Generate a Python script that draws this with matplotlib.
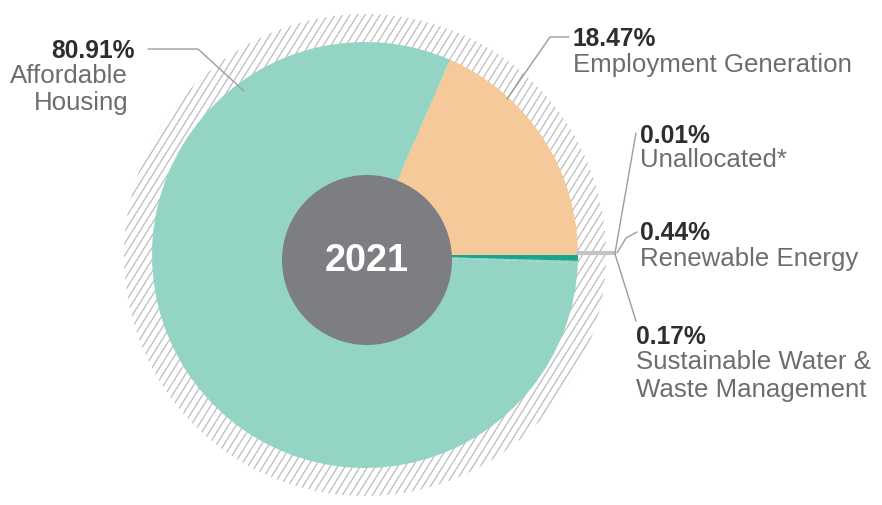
import matplotlib
matplotlib.use("Agg")
import numpy as np
import matplotlib.pyplot as plt
from matplotlib.patches import Circle

labels = ["Employment Generation", "Affordable Housing", "Unallocated*",
          "Sustainable Water & Waste Management", "Renewable Energy"]
values = [18.47, 80.91, 0.01, 0.17, 0.44]
pct_labels = ["18.47%", "80.91%", "0.01%", "0.17%", "0.44%"]
colors = ["#f5c999", "#93d4c4", "#93d4c4", "#93d4c4", "#19a48c"]
year = "2021"

W, H = 882, 506
fig = plt.figure(figsize=(W / 100, H / 100), dpi=100)
ax = fig.add_axes([0, 0, 1, 1])
ax.set_xlim(0, W)
ax.set_ylim(0, H)
renderer = fig.canvas.get_renderer()
FAM = ["Liberation Sans", "DejaVu Sans"]

def Y(y):
    return H - y

def fit(s, target, weight="normal"):
    t = fig.text(0, 0, s, fontsize=10, fontweight=weight, family=FAM)
    w = t.get_window_extent(renderer).width
    t.remove()
    return 10 * target / w

cx, cy = 365, Y(256)

# hatched ring drawn as clipped thin lines
clip = Circle((cx, cy), 241, transform=ax.transData, facecolor="none", edgecolor="none")
ax.add_patch(clip)
ang = np.deg2rad(58)
for x0 in np.arange(-400, 1200, 7.5):
    xs = np.array([x0, x0 + 600 / np.tan(ang)])
    ys = np.array([cy - 300, cy + 300])
    ln, = ax.plot(xs, ys, color="#bcbcbc", lw=0.9, zorder=1)
    ln.set_clip_path(clip)

ax.pie(values, colors=colors, startangle=0, counterclock=True,
       center=(cx, cy), radius=213,
       wedgeprops=dict(linewidth=0, zorder=2))

ax.add_patch(Circle((367, Y(261)), 85, facecolor="#7d7e82", edgecolor="none", zorder=3))
ax.text(367, Y(261), year, ha="center", va="center", color="white",
        fontsize=fit(year, 84, "bold"), fontweight="bold", family=FAM, zorder=4)

line_kw = dict(color="#9c9c9c", lw=1.0, zorder=5, solid_capstyle="round")
ax.plot([148, 198, 244], [Y(50), Y(50), Y(92)], **line_kw)
ax.plot([569, 550, 507], [Y(38), Y(38), Y(100)], **line_kw)
ax.plot([578, 614], [Y(254), Y(254)], color="#c4c4c4", lw=3, zorder=5)
ax.plot([636, 615], [Y(134), Y(254)], **line_kw)
ax.plot([637, 626, 617], [Y(233), Y(239), Y(254)], **line_kw)
ax.plot([615, 636], [Y(255), Y(322)], **line_kw)

num_size = fit("18.47%", 84, "bold")
desc_size = fit("Employment Generation", 280)

num_kw = dict(fontsize=num_size, fontweight="bold", color="#2e2e2e", family=FAM,
              va="baseline", zorder=6)
desc_kw = dict(fontsize=desc_size, color="#6d6d6d", family=FAM, va="baseline",
               zorder=6)

# (x number, x description, anchor, number baseline, description baselines, lines, pct)
label_layout = [
    (135, 128, "right", 58, [83, 110], ["Affordable", "Housing"], pct_labels[1]),
    (573, 573, "left", 46, [72], ["Employment Generation"], pct_labels[0]),
    (640, 640, "left", 143, [167], ["Unallocated*"], pct_labels[2]),
    (640, 640, "left", 240, [266], ["Renewable Energy"], pct_labels[4]),
    (636, 636, "left", 344, [369, 397], ["Sustainable Water &", "Waste Management"], pct_labels[3]),
]
for xn, xd, ha, yn, yds, lines, pct in label_layout:
    ax.text(xn, Y(yn), pct, ha=ha, **num_kw)
    for yd, s in zip(yds, lines):
        ax.text(xd, Y(yd), s, ha=ha, **desc_kw)

ax.set_xlim(0, W)
ax.set_ylim(0, H)
ax.set_aspect("auto")
ax.axis("off")
fig.savefig("out.png", dpi=100, facecolor="white")
